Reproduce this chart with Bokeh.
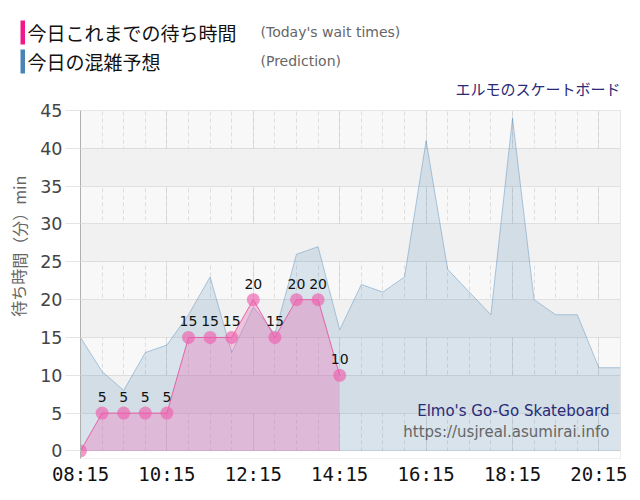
from bokeh.plotting import figure
from bokeh.layouts import column, row
from bokeh.models import Label, FixedTicker, ColumnDataSource, Range1d, BoxAnnotation
from bokeh.embed import file_html
from bokeh.resources import INLINE
from bokeh.core.properties import value

# ---- data ----
pred_times = ["08:15", "08:45", "09:15", "09:45", "10:15", "10:45", "11:15", "11:45",
              "12:15", "12:45", "13:15", "13:45", "14:15", "14:45", "15:15", "15:45",
              "16:15", "16:45", "17:15", "17:45", "18:15", "18:45", "19:15", "19:45",
              "20:15", "20:45"]
pred_values = [15, 10.5, 8, 13, 14, 18, 23, 13, 19, 15.5, 26, 27, 16, 22, 21, 23,
               41, 24, 21, 18, 44, 20, 18, 18, 11, 11]
actual_times = ["08:15", "08:45", "09:15", "09:45", "10:15", "10:45", "11:15", "11:45",
                "12:15", "12:45", "13:15", "13:45", "14:15"]
actual_values = [0, 5, 5, 5, 5, 15, 15, 15, 20, 15, 20, 20, 10]
tick_labels = ["08:15", "10:15", "12:15", "14:15", "16:15", "18:15", "20:15"]
grid_times = pred_times
y_ticks = [0, 5, 10, 15, 20, 25, 30, 35, 40, 45]
band_ticks = [-5] + y_ticks


def to_min(t):
    h, m = t.split(":")
    return int(h) * 60 + int(m)


px = [to_min(t) for t in pred_times]
ax = [to_min(t) for t in actual_times]
tick_pos = [to_min(t) for t in tick_labels]
minor_pos = [to_min(t) for t in grid_times]

pred_src = ColumnDataSource(dict(x=px, y=pred_values, y0=[0] * len(px)))
act_src = ColumnDataSource(dict(x=ax, y=actual_values, y0=[0] * len(ax),
                                lab=[str(v) if v > 0 else "" for v in actual_values]))

# ---------------- header (legend + title) ----------------
hdr = figure(width=640, height=100, output_backend="svg", toolbar_location=None,
             x_range=Range1d(0, 640), y_range=Range1d(100, 0),
             x_axis_type=None, y_axis_type=None, min_border=0)
hdr.outline_line_color = None
hdr.xgrid.visible = False
hdr.ygrid.visible = False
hdr.background_fill_color = "white"
hdr.border_fill_color = "white"


def hlab(fig, text, x, y, size, color, font, align="left", angle=0):
    fig.add_layout(Label(x=x, y=y, text=text, text_font_size=size, text_color=color,
                         text_font=font, text_align=align, text_baseline="middle",
                         angle=angle))


hdr.add_layout(BoxAnnotation(left=20, right=24.5, top=20, bottom=44, fill_color="#f0198c",
                             fill_alpha=1, line_color=None))
hdr.add_layout(BoxAnnotation(left=20, right=24.5, top=49, bottom=73, fill_color="#4a84b6",
                             fill_alpha=1, line_color=None))
hlab(hdr, "今日これまでの待ち時間", 27, 32, "19px", "#111111", "Noto Sans CJK JP")
hlab(hdr, "(Today's wait times)", 260, 31, "14px", "#666666", "DejaVu Sans")
hlab(hdr, "今日の混雑予想", 27, 61, "19px", "#111111", "Noto Sans CJK JP")
hlab(hdr, "(Prediction)", 260, 60, "14px", "#666666", "DejaVu Sans")
hlab(hdr, "エルモのスケートボード", 620, 88, "15px", "#2a2a78", "Noto Sans CJK JP",
     align="right")

# ---------------- y-axis title strip ----------------
ylf = figure(width=30, height=400, output_backend="svg", toolbar_location=None,
             x_range=Range1d(0, 30), y_range=Range1d(500, 100),
             x_axis_type=None, y_axis_type=None, min_border=0)
ylf.outline_line_color = None
ylf.xgrid.visible = False
ylf.ygrid.visible = False
hlab(ylf, "待ち時間（分）min", 18, 256, "16px", "#666666", "Noto Sans CJK JP",
     align="center", angle=1.5707963)

# ---------------- main chart ----------------
p = figure(width=610, height=400, output_backend="svg", toolbar_location=None,
           x_range=Range1d(to_min(pred_times[0]), to_min(pred_times[-1])),
           y_range=Range1d(-1, 45),
           min_border_left=50, min_border_right=20, min_border_top=10, min_border_bottom=42)
p.background_fill_color = "#f8f8f8"
p.border_fill_color = "white"
p.outline_line_color = "#d0d0d0"
p.outline_line_dash = "1 1"

p.ygrid.ticker = FixedTicker(ticks=band_ticks)
p.ygrid.grid_line_color = "#c8c8c8"
p.ygrid.grid_line_dash = "1 1"
p.ygrid.band_fill_color = "#f1f1f1"
p.ygrid.band_fill_alpha = 1.0
p.xgrid.ticker = FixedTicker(ticks=tick_pos, minor_ticks=minor_pos)
p.xgrid.grid_line_color = "#c8c8c8"
p.xgrid.grid_line_dash = "1 1"
p.xgrid.minor_grid_line_color = "#dddddd"
p.xgrid.minor_grid_line_dash = "4 3"

# white strip under the zero line
p.add_layout(BoxAnnotation(top=0, fill_color="white", fill_alpha=1, line_color=None,
                           level="underlay"))

p.xaxis.ticker = FixedTicker(ticks=tick_pos)
p.xaxis.major_label_overrides = {pos: lab for pos, lab in zip(tick_pos, tick_labels)}
p.xaxis.axis_line_color = None
p.xaxis.major_tick_line_color = None
p.xaxis.major_tick_out = 0
p.xaxis.major_tick_in = 0
p.xaxis.minor_tick_line_color = None
p.xaxis.minor_tick_out = 0
p.xaxis.major_label_standoff = 4
p.xaxis.major_label_text_font = "DejaVu Sans Mono"
p.xaxis.major_label_text_font_size = "19px"
p.xaxis.major_label_text_color = "#111111"

p.yaxis.ticker = FixedTicker(ticks=y_ticks)
p.yaxis.axis_line_color = "#b0b0b0"
p.yaxis.major_tick_line_color = "#e4e4e4"
p.yaxis.major_tick_out = 15
p.yaxis.major_tick_in = 0
p.yaxis.minor_tick_line_color = None
p.yaxis.major_label_standoff = 3
p.yaxis.major_label_text_font = "DejaVu Sans"
p.yaxis.major_label_text_font_size = "17.5px"
p.yaxis.major_label_text_color = "#444444"

p.varea(x="x", y1="y0", y2="y", source=pred_src, fill_color="#4682b4", fill_alpha=0.175)
p.line(x="x", y="y", source=pred_src, line_color="#4682b4", line_alpha=0.4, line_width=1)

p.varea(x="x", y1="y0", y2="y", source=act_src, fill_color="#ec6eb4", fill_alpha=0.36)
p.line(x="x", y="y", source=act_src, line_color="#e6509c", line_alpha=0.85, line_width=1)
p.scatter(x="x", y="y", source=act_src, size=13, fill_color="#ee5fae", fill_alpha=0.65,
          line_color=None)
p.text(x="x", y="y", text="lab", source=act_src, y_offset=-11, text_align="center",
       text_baseline="bottom", text_font=value("DejaVu Sans"), text_font_size="14px",
       text_color="#111111")

# watermark (screen units relative to frame: left = page 80, bottom = page 457.6)
FL, FB = 80, 457.6
for txt, yy, col in [("Elmo's Go-Go Skateboard", 410, "#2a2a78"),
                     ("https://usjreal.asumirai.info", 431, "#666666")]:
    p.add_layout(Label(x=609 - FL, y=FB - yy, x_units="screen", y_units="screen", text=txt,
                       text_font_size="15px", text_color=col, text_font="DejaVu Sans",
                       text_align="right", text_baseline="middle"))

layout = column(hdr, row(ylf, p))
open("out.html", "w").write(file_html(layout, INLINE))
